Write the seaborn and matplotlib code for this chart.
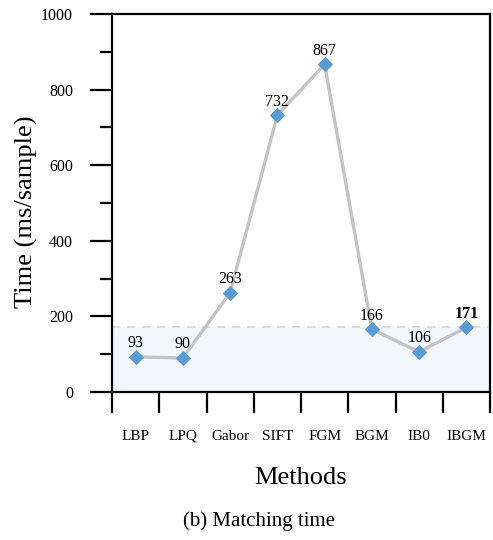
import numpy as np
import pandas as pd
import matplotlib
matplotlib.use("Agg")
import matplotlib.pyplot as plt
import seaborn as sns
from matplotlib.ticker import FixedLocator, MultipleLocator, NullFormatter

methods = ["LBP", "LPQ", "Gabor", "SIFT", "FGM", "BGM", "IB0", "IBGM"]
times = [93, 90, 263, 732, 867, 166, 106, 171]
highlight = "IBGM"
y_ticks = [0, 200, 400, 600, 800, 1000]

sns.set_theme(style="white")
plt.rcParams["font.family"] = ["Liberation Serif", "DejaVu Serif"]
plt.rcParams.update({"text.color": "black", "axes.labelcolor": "black",
                     "xtick.color": "black", "ytick.color": "black"})

df = pd.DataFrame({"Method": methods, "Time": times})
df["pos"] = np.arange(len(methods))

fig = plt.figure(figsize=(4.93, 5.40), dpi=100)
ax = fig.add_axes([112 / 493, 1 - 392 / 540, 378 / 493, 378 / 540])

# reference band up to the proposed method's time
ref = times[methods.index(highlight)]
ax.axhspan(0, ref, facecolor="#f1f7fd", edgecolor="none", zorder=0)
ax.axhline(ref, color="#d8d8d8", lw=1.2, ls=(0, (5, 4)), zorder=1)
ax.axhline(0, color="#d8d8d8", lw=1.2, ls=(0, (5, 4)), zorder=1)

sns.lineplot(data=df, x="pos", y="Time", ax=ax, color="#c4c4c4", lw=2.4,
             marker="D", markersize=7, markerfacecolor="#5b9bd5",
             markeredgecolor="#5b9bd5", sort=False, zorder=3)

for m, x, t in zip(methods, df["pos"], times):
    ax.annotate(str(t), (x, t), xytext=(0, 4), textcoords="offset points",
                ha="center", va="bottom", fontsize=11.5,
                fontweight="bold" if m == highlight else "normal", zorder=4)

ax.set_xlim(-0.5, len(methods) - 0.5)
ax.set_ylim(0, 1000)

# category boundaries as long ticks, labels centred on categories
ax.xaxis.set_major_locator(FixedLocator(np.arange(-0.5, len(methods), 1.0)))
ax.xaxis.set_major_formatter(NullFormatter())
ax.xaxis.set_minor_locator(FixedLocator(df["pos"].values))
ax.set_xticklabels(methods, minor=True)
ax.tick_params(axis="x", which="major", direction="out", length=15, width=1.6,
               bottom=True)
ax.tick_params(axis="x", which="minor", length=0, pad=27, labelsize=11)

ax.set_yticks(y_ticks)
ax.yaxis.set_minor_locator(MultipleLocator(100))
ax.tick_params(axis="y", which="major", direction="out", length=16, width=1.6,
               left=True, pad=12, labelsize=11.5)
ax.tick_params(axis="y", which="minor", direction="out", length=8.5, width=1.6,
               left=True)

for side in ["left", "right", "top", "bottom"]:
    ax.spines[side].set_visible(True)
    ax.spines[side].set_color("black")
    ax.spines[side].set_linewidth(1.6)

ax.set_xlabel("Methods", fontsize=19)
ax.xaxis.set_label_coords(0.5, -(478 - 392) / 378)
ax.xaxis.label.set_va("center")
ax.set_ylabel("Time (ms/sample)", fontsize=19)
ax.yaxis.set_label_coords(-(112 - 26) / 378, (392 - 212) / 378)
ax.yaxis.label.set_va("center")

fig.text(259 / 493, 1 - 521 / 540, "(b) Matching time", ha="center",
         va="center", fontsize=15)

fig.savefig("out.png", dpi=100)
